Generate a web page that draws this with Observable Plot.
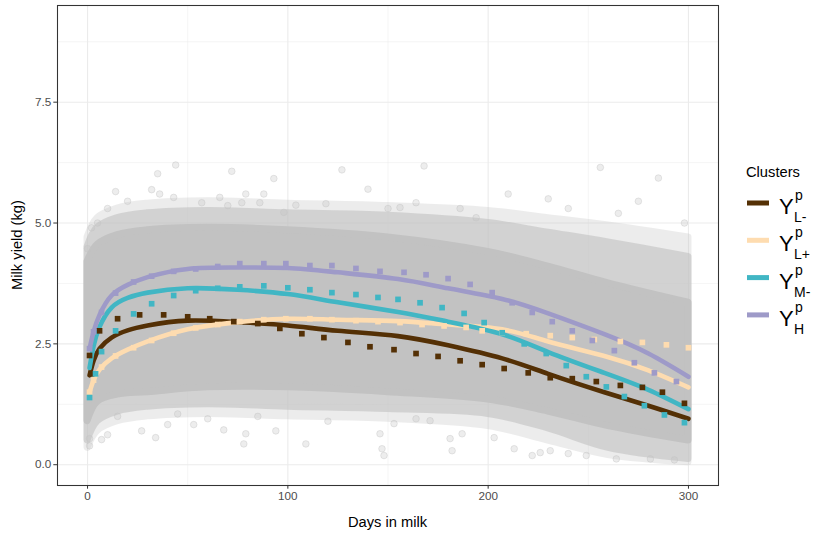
<!DOCTYPE html>
<html>
<head>
<meta charset="utf-8">
<script src="https://cdn.jsdelivr.net/npm/d3@7"></script>
<script src="https://cdn.jsdelivr.net/npm/@observablehq/plot@0.6"></script>
<style>
  html, body { margin: 0; padding: 0; background: #fff; }
  #chart { position: relative; width: 824px; height: 533px; }
</style>
</head>
<body>
<div id="chart"></div>
<script>
// ---------- data ----------
const clusters = ["L-", "L+", "M-", "H"];
const colors = ["#543005", "#fedcb0", "#41b6c4", "#9e9ac8"];

// smooth fitted curves
const lineDays = [1, 3, 6, 12, 20, 30, 50, 75, 100, 125, 155, 180, 207, 230, 258, 280, 300];
const lineLminus = [1.85, 2.15, 2.4, 2.63, 2.78, 2.88, 2.98, 2.95, 2.88, 2.77, 2.66, 2.47, 2.2, 1.88, 1.5, 1.22, 0.95];
const lineLplus  = [1.5, 1.75, 1.97, 2.2, 2.38, 2.55, 2.8, 2.95, 3.02, 3.0, 2.97, 2.9, 2.8, 2.55, 2.25, 1.95, 1.6];
const lineMminus = [2.0, 2.45, 2.85, 3.25, 3.45, 3.56, 3.65, 3.62, 3.53, 3.36, 3.16, 2.96, 2.7, 2.33, 1.9, 1.55, 1.15];
const lineH      = [2.4, 2.75, 3.1, 3.5, 3.72, 3.88, 4.05, 4.08, 4.07, 3.98, 3.84, 3.65, 3.43, 3.13, 2.7, 2.3, 1.82];

// observed means (square markers)
const ptDaysLminus = [1, 2, 6, 15, 26, 38, 50, 61, 73, 85, 96, 107, 118, 130, 141, 153, 164, 175, 186, 197, 208, 220, 231, 242, 254, 266, 277, 287, 298];
const ptLminus = [2.26, 1.88, 2.77, 3.02, 3.1, 3.1, 3.06, 3.02, 2.96, 2.92, 2.82, 2.71, 2.63, 2.53, 2.44, 2.38, 2.3, 2.24, 2.15, 2.07, 1.99, 1.9, 1.8, 1.78, 1.72, 1.64, 1.6, 1.5, 1.27];
const ptDaysLplus = [1, 3, 7, 14, 23, 32, 43, 54, 65, 76, 88, 99, 111, 122, 134, 145, 156, 167, 178, 189, 197, 207, 219, 231, 242, 253, 266, 277, 289, 300];
const ptLplus = [1.5, 1.75, 2.02, 2.25, 2.42, 2.57, 2.72, 2.83, 2.9, 2.96, 3.0, 3.02, 3.02, 3.0, 2.98, 2.96, 2.94, 2.9, 2.87, 2.84, 2.77, 2.73, 2.71, 2.67, 2.63, 2.59, 2.55, 2.53, 2.48, 2.42];
const ptDaysMminus = [1, 4, 7, 14, 23, 32, 43, 54, 65, 76, 88, 100, 111, 122, 134, 145, 155, 166, 177, 188, 198, 207, 218, 229, 239, 249, 259, 268, 278, 288, 298];
const ptMminus = [1.39, 1.88, 2.34, 2.77, 3.12, 3.33, 3.5, 3.6, 3.65, 3.68, 3.7, 3.66, 3.62, 3.56, 3.52, 3.46, 3.42, 3.35, 3.25, 3.13, 2.94, 2.73, 2.5, 2.3, 2.05, 1.82, 1.61, 1.41, 1.22, 1.03, 0.87];
const ptDaysH = [1, 3, 7, 14, 23, 32, 43, 54, 65, 76, 88, 99, 111, 122, 134, 146, 158, 169, 180, 191, 202, 212, 222, 232, 242, 252, 263, 273, 283, 294];
const ptH = [2.4, 2.75, 3.15, 3.55, 3.78, 3.9, 4.0, 4.05, 4.1, 4.16, 4.16, 4.16, 4.12, 4.12, 4.06, 4.0, 3.98, 3.93, 3.85, 3.73, 3.56, 3.35, 3.15, 2.96, 2.77, 2.57, 2.36, 2.11, 1.9, 1.72];

// raw data cloud: dense envelope + translucent halo
const cloudDays  = [0, 5, 15, 30, 60, 100, 150, 200, 230, 260, 300];
const coreUpper  = [4.2, 4.55, 4.75, 4.85, 4.9, 4.85, 4.7, 4.4, 4.1, 3.75, 3.35];
const coreLower  = [0.9, 1.3, 1.45, 1.5, 1.6, 1.6, 1.5, 1.35, 1.1, 0.8, 0.5];
const haloUpper  = [4.5, 4.9, 5.1, 5.2, 5.25, 5.2, 5.15, 5.0, 4.8, 4.6, 4.3];
const haloLower  = [0.5, 0.9, 1.1, 1.2, 1.25, 1.2, 1.15, 1.05, 0.75, 0.35, 0.12];
const outerUpper = [4.7, 5.1, 5.3, 5.4, 5.45, 5.4, 5.35, 5.25, 5.1, 4.95, 4.7];
const outerLower = [0.35, 0.7, 0.9, 1.0, 1.05, 1.0, 0.95, 0.8, 0.5, 0.2, 0.05];

// scattered individual records outside the dense cloud
const outDays = [44, 35, 72, 93, 14, 32, 36, 43, 10, 57, 66, 79, 86, 88, 77, 70, 0, 98, 104, 119, 150, 156, 164, 186, 194, 127, 168, 256, 285, 298, 140, 210, 230, 240, 265, 275, 20, 5, 2,
  1, 1, 7, 10, 27, 34, 40, 53, 68, 78, 79, 94, 109, 146, 147, 148, 153, 164, 171, 181, 182, 187, 203, 213, 222, 226, 231, 240, 249, 264, 281, 293, 15, 45, 85, 120, 60];
const outYield = [6.2, 6.02, 6.07, 5.92, 5.65, 5.69, 5.6, 5.53, 5.3, 5.42, 5.53, 5.6, 5.42, 5.6, 5.42, 5.36, 4.47, 5.22, 5.37, 5.4, 5.3, 5.32, 5.42, 5.3, 5.11, 6.1, 6.18, 6.15, 5.93, 5.0, 5.7, 5.6, 5.5, 5.3, 5.2, 5.45, 5.45, 5.0, 4.9,
  0.39, 0.54, 0.52, 0.62, 0.7, 0.56, 0.83, 0.83, 0.72, 0.43, 0.64, 0.7, 0.43, 0.64, 0.33, 0.19, 0.85, 0.95, 0.91, 0.54, 0.29, 0.64, 0.56, 0.33, 0.19, 0.25, 0.29, 0.23, 0.19, 0.12, 0.12, 0.1, 1.0, 1.05, 1.0, 0.9, 0.95];

// axes
const xTicks = [0, 100, 200, 300];
const xMinor = [50, 150, 250];
const yTicks = [0, 2.5, 5, 7.5];
const yMinor = [1.25, 3.75, 6.25, 8.75];

// ---------- build tables ----------
const lineSeries = [lineLminus, lineLplus, lineMminus, lineH];
const ptDaysSeries = [ptDaysLminus, ptDaysLplus, ptDaysMminus, ptDaysH];
const ptSeries = [ptLminus, ptLplus, ptMminus, ptH];

const lines = clusters.flatMap((c, i) => lineDays.map((d, j) => ({cluster: c, day: d, y: lineSeries[i][j]})));
const pts = clusters.flatMap((c, i) => ptDaysSeries[i].map((d, j) => ({cluster: c, day: d, y: ptSeries[i][j]})));
const cloud = cloudDays.map((d, i) => ({day: d, cu: coreUpper[i], cl: coreLower[i], hu: haloUpper[i], hl: haloLower[i], ou: outerUpper[i], ol: outerLower[i]}));
const outliers = outDays.map((d, i) => ({day: d, y: outYield[i]}));

const grey = "#c2c2c2";
const curve = "catmull-rom";

const marks = [
  Plot.gridX(xMinor, {stroke: "#ececec", strokeOpacity: 1, strokeWidth: 0.55}),
  Plot.gridY(yMinor, {stroke: "#ececec", strokeOpacity: 1, strokeWidth: 0.55}),
  Plot.gridX(xTicks, {stroke: "#ebebeb", strokeOpacity: 1, strokeWidth: 1.1}),
  Plot.gridY(yTicks, {stroke: "#ebebeb", strokeOpacity: 1, strokeWidth: 1.1}),
  // cloud
  Plot.areaY(cloud, {x: "day", y1: "ol", y2: "ou", fill: grey, stroke: grey, strokeWidth: 7, strokeLinejoin: "round", opacity: 0.3, curve}),
  Plot.areaY(cloud, {x: "day", y1: "hl", y2: "hu", fill: grey, stroke: grey, strokeWidth: 7, strokeLinejoin: "round", opacity: 0.6, curve}),
  Plot.areaY(cloud, {x: "day", y1: "cl", y2: "cu", fill: grey, stroke: grey, strokeWidth: 7, strokeLinejoin: "round", opacity: 1, curve}),
  Plot.dot(outliers, {x: "day", y: "y", r: 3.3, fill: grey, fillOpacity: 0.3, stroke: grey, strokeOpacity: 0.5, strokeWidth: 0.8}),
  // fitted curves
  Plot.line(lines, {x: "day", y: "y", z: "cluster", stroke: "cluster", strokeWidth: 4.6, curve: "natural"}),
  // observed means
  Plot.dot(pts, {x: "day", y: "y", fill: "cluster", symbol: "square", r: 3.2}),
  Plot.frame({stroke: "#333", strokeWidth: 1.07}),
  Plot.axisX(xTicks, {tickSize: 3.7, tickPadding: 2.2, fontSize: 11.7, stroke: "#333", fill: "#4d4d4d", label: null}),
  Plot.axisY(yTicks, {tickSize: 3.7, tickPadding: 2.5, fontSize: 11.7, stroke: "#333", fill: "#4d4d4d", label: null, tickFormat: d3.format(".1f")})
];

const plot = Plot.plot({
  width: 824,
  height: 533,
  marginLeft: 57,
  marginRight: 106,
  marginTop: 5,
  marginBottom: 48,
  x: {domain: [-15, 315]},
  y: {domain: [-0.43, 9.5]},
  color: {domain: clusters, range: colors},
  style: {fontFamily: "'Liberation Sans', Arial, sans-serif", background: "white", overflow: "visible"},
  marks
});

document.getElementById("chart").appendChild(plot);

// tick label colour and size
const svg = d3.select(plot);
svg.selectAll('g[aria-label="x-axis tick label"], g[aria-label="y-axis tick label"]').attr("font-size", 11.7);
svg.selectAll('g[aria-label="x-axis tick label"] text, g[aria-label="y-axis tick label"] text').attr("fill", "#4d4d4d");

// axis titles
svg.append("text").attr("x", 387.5).attr("y", 527).attr("text-anchor", "middle")
  .attr("font-size", 14.7).attr("fill", "#000").text("Days in milk");
svg.append("text").attr("transform", "translate(22,245) rotate(-90)").attr("text-anchor", "middle")
  .attr("font-size", 14.7).attr("fill", "#000").text("Milk yield (kg)");

// legend
const lg = svg.append("g").attr("font-family", "'Liberation Sans', Arial, sans-serif").attr("text-anchor", "start");
lg.append("text").attr("x", 746).attr("y", 177).attr("font-size", 14.7).attr("fill", "#000").text("Clusters");
clusters.forEach((c, i) => {
  const cy = 203 + i * 37.3;
  lg.append("rect").attr("x", 747).attr("y", cy - 2.5).attr("width", 22).attr("height", 5).attr("fill", colors[i]);
  lg.append("text").attr("x", 779).attr("y", cy + 11).attr("font-size", 22).attr("fill", "#000").text("Y");
  lg.append("text").attr("x", 795).attr("y", cy - 3).attr("font-size", 14).attr("fill", "#000").text("p");
  lg.append("text").attr("x", 794).attr("y", cy + 19).attr("font-size", 14).attr("fill", "#000").text(c);
});
</script>
</body>
</html>
